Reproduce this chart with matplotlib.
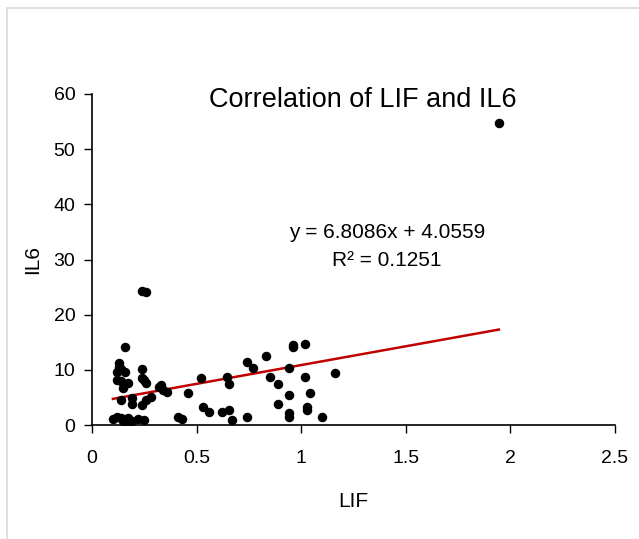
import matplotlib.pyplot as plt
from matplotlib.patches import Rectangle

plt.rcParams["font.family"] = ["Liberation Sans", "DejaVu Sans"]

TITLE = "Correlation of LIF and IL6"
X_LABEL = "LIF"
Y_LABEL = "IL6"

# slope / intercept / R² shown on the chart's trendline label
SLOPE = 6.8086
INTERCEPT = 4.0559
R_SQUARED = 0.1251

lif = [
    0.16, 0.13, 0.13, 0.12, 0.14, 0.16, 0.12, 0.14, 0.17, 0.15,
    0.24, 0.24, 0.26, 0.25, 0.33, 0.34, 0.32, 0.36,
    0.14, 0.19, 0.19, 0.26, 0.28, 0.24,
    0.10, 0.12, 0.14, 0.15, 0.17, 0.19, 0.22, 0.25, 0.17,
    0.41, 0.43, 0.46, 0.52, 0.53, 0.56, 0.62, 0.655, 0.67,
    0.645, 0.655, 0.74, 0.74, 0.77, 0.83, 0.85, 0.89, 0.94,
    0.96, 0.96, 1.02, 1.02, 0.94, 0.89, 1.04, 0.94, 0.94,
    1.03, 1.03, 1.16, 1.10, 0.24, 0.26, 1.945,
]
il6 = [
    14.1, 11.3, 10.5, 9.6, 10.1, 9.6, 8.2, 8.0, 7.6, 6.7,
    10.1, 8.5, 7.6, 8.2, 7.2, 6.3, 6.8, 5.9,
    4.5, 4.9, 3.8, 4.5, 5.1, 3.6,
    1.0, 1.4, 1.3, 0.8, 1.2, 0.7, 1.1, 0.9, 0.4,
    1.4, 1.0, 5.8, 8.5, 3.3, 2.4, 2.4, 2.7, 0.9,
    8.7, 7.4, 1.4, 11.4, 10.3, 12.5, 8.7, 7.4, 10.3,
    14.5, 14.1, 14.7, 8.7, 5.4, 3.8, 5.8, 2.2, 1.4,
    3.3, 2.7, 9.4, 1.4, 24.3, 24.1, 54.7,
]

x_ticks = [0, 0.5, 1, 1.5, 2, 2.5]
x_tick_labels = ["0", "0.5", "1", "1.5", "2", "2.5"]
y_ticks = [0, 10, 20, 30, 40, 50, 60]

fig = plt.figure(figsize=(6.39, 5.39), dpi=100)
ax = fig.add_axes([92 / 639, 114 / 539, 523 / 639, 331 / 539])

# light grey chart frame like the spreadsheet chart area
fig.patches.append(Rectangle((7 / 639, -0.1), 1.2, 1 - 8 / 539 + 0.1,
                             transform=fig.transFigure, fill=False,
                             edgecolor="#d9d9d9", linewidth=1.2))

ax.scatter(lif, il6, s=34, color="black", zorder=3)

x0, x1 = min(lif), max(lif)
ax.plot([x0, x1], [SLOPE * x0 + INTERCEPT, SLOPE * x1 + INTERCEPT],
        color="#c00000", linewidth=1.8, zorder=2)

ax.set_xlim(0, 2.5)
ax.set_ylim(0, 60)
ax.set_xticks(x_ticks)
ax.set_xticklabels(x_tick_labels)
ax.set_yticks(y_ticks)
ax.tick_params(labelsize=14, length=6, width=1, colors="black")
ax.tick_params(axis="x", pad=12)
ax.tick_params(axis="y", pad=6)
for side in ("top", "right"):
    ax.spines[side].set_visible(False)
for side in ("left", "bottom"):
    ax.spines[side].set_linewidth(1.2)

ax.set_xlabel(X_LABEL, fontsize=15, labelpad=18)
ax.set_ylabel(Y_LABEL, fontsize=15, labelpad=8)

fig.text(363 / 639, 1 - 100 / 539, TITLE, fontsize=19.5, ha="center", va="center")
ax.text(1.41, 34.9, f"y = {SLOPE}x + {INTERCEPT}", fontsize=15, ha="center", va="center")
ax.text(1.41, 29.9, f"R² = {R_SQUARED}", fontsize=15, ha="center", va="center")

fig.savefig("out.png", dpi=100)
